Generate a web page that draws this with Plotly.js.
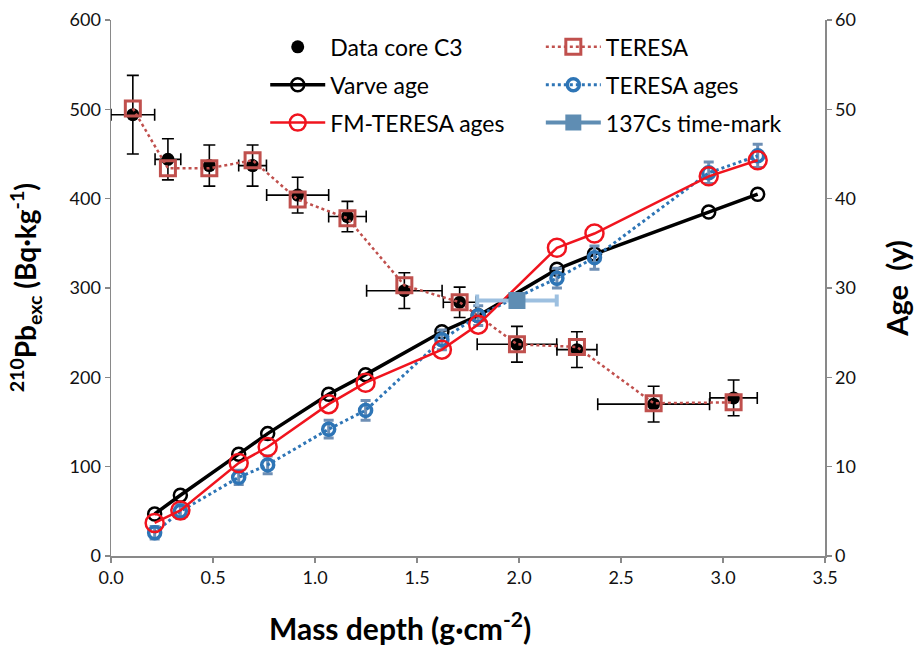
<!DOCTYPE html>
<html>
<head>
<meta charset="utf-8">
<script src="https://cdn.plot.ly/plotly-3.0.1.min.js"></script>
<style>html,body{margin:0;padding:0;background:#fff;}#chart{width:915px;height:653px;}</style>
</head>
<body>
<div id="chart"></div>
<script>
// Core C3 210Pb data (left axis)
const coreDepth = [0.107, 0.279, 0.482, 0.694, 0.915, 1.159, 1.438, 1.709, 1.99, 2.284, 2.66, 3.052];
const coreDepthErr = [0.107, 0.063, 0.0, 0.068, 0.152, 0.092, 0.185, 0.08, 0.195, 0.098, 0.274, 0.116];
const corePb = [494, 444, 437, 437, 404, 380, 297, 284, 237, 231, 170, 177];
const corePbErr = [44, 23, 23, 23, 20, 17, 20, 17, 20, 20, 20, 20];
const teresaPb = [501, 434, 434, 443, 399, 378, 303, 284, 237, 234, 171, 172];

// Ages (right axis)
const ageDepth = [0.214, 0.34, 0.626, 0.768, 1.067, 1.248, 1.622, 1.80, 2.186, 2.37, 2.93, 3.17];
const varveAge = [4.7, 6.8, 11.4, 13.7, 18.1, 20.3, 25.1, 26.9, 32.1, 33.8, 38.5, 40.5];
const fmTeresaAge = [3.7, 5.1, 10.4, 12.2, 17.0, 19.4, 23.1, 25.9, 34.5, 36.1, 42.5, 44.3];
const teresaAge = [2.6, 5.0, 8.8, 10.2, 14.2, 16.3, 24.2, 26.9, 31.1, 33.4, 42.9, 44.8];
const teresaAgeErr = [0.7, 0.8, 0.8, 1.0, 1.0, 1.1, 1.1, 1.1, 1.1, 1.3, 1.2, 1.3];

// 137Cs time-mark
const csDepth = [1.99];
const csDepthErr = [0.195];
const csAge = [28.6];

const FONT = 'Lato, "Open Sans", sans-serif';

const traces = [
  {
    name: 'Data core C3', x: coreDepth, y: corePb, type: 'scatter', mode: 'markers',
    marker: {color: '#000', size: 13, symbol: 'circle'},
    error_x: {type: 'data', array: coreDepthErr, color: '#000', thickness: 1.6, width: 6},
    error_y: {type: 'data', array: corePbErr, color: '#000', thickness: 1.6, width: 6},
    yaxis: 'y', legend: 'legend', legendgroup: 'a'
  },
  {
    name: 'TERESA', x: coreDepth, y: teresaPb, type: 'scatter', mode: 'lines+markers',
    line: {color: '#C0504D', width: 2.5, dash: 'dot'},
    marker: {color: '#C0504D', size: 15, symbol: 'square-open', line: {width: 3, color: '#C0504D'}},
    yaxis: 'y', legend: 'legend2', legendgroup: 'b'
  },
  {
    name: 'Varve age', x: ageDepth, y: varveAge, type: 'scatter', mode: 'lines+markers',
    line: {color: '#000', width: 3.5},
    marker: {color: '#000', size: 13, symbol: 'circle-open', line: {width: 2.5, color: '#000'}},
    yaxis: 'y2', legend: 'legend', legendgroup: 'c'
  },
  {
    name: 'TERESA ages', x: ageDepth, y: teresaAge, type: 'scatter', mode: 'lines+markers',
    line: {color: '#2E75B6', width: 3, dash: 'dot'},
    marker: {color: '#2E75B6', size: 12, symbol: 'circle-open', line: {width: 3.5, color: '#2E75B6'}},
    error_y: {type: 'data', array: teresaAgeErr, color: '#6E8FB5', thickness: 3, width: 5},
    yaxis: 'y2', legend: 'legend2', legendgroup: 'd'
  },
  {
    name: 'FM-TERESA ages', x: ageDepth, y: fmTeresaAge, type: 'scatter', mode: 'lines+markers',
    line: {color: '#F0141E', width: 2.5},
    marker: {color: '#F0141E', size: 18, symbol: 'circle-open', line: {width: 2.5, color: '#F0141E'}},
    yaxis: 'y2', legend: 'legend', legendgroup: 'e'
  },
  {
    name: '137Cs time-mark', x: csDepth, y: csAge, type: 'scatter', mode: 'lines+markers',
    line: {color: '#5F8DB3', width: 4},
    marker: {color: '#5F8DB3', size: 17, symbol: 'square'},
    error_x: {type: 'data', array: csDepthErr, color: '#9DC0E0', thickness: 4, width: 6},
    yaxis: 'y2', legend: 'legend2', legendgroup: 'f'
  }
];

const axisCommon = {
  showline: true, linecolor: '#898989', linewidth: 1.5,
  ticks: 'outside', ticklen: 5, tickcolor: '#898989', tickwidth: 1.3,
  showgrid: false, zeroline: false,
  tickfont: {family: FONT, size: 18, color: '#111'}
};

const legendCommon = {
  orientation: 'v', xanchor: 'left', yanchor: 'top', y: 0.99,
  itemwidth: 55, tracegroupgap: 5,
  font: {family: FONT, size: 23, color: '#000'},
  bgcolor: 'rgba(0,0,0,0)'
};

const layout = {
  width: 915, height: 653,
  margin: {l: 111, r: 90, t: 20, b: 97},
  paper_bgcolor: '#fff', plot_bgcolor: '#fff',
  font: {family: FONT, color: '#000'},
  showlegend: true,
  legend: Object.assign({}, legendCommon, {x: 0.216}),
  legend2: Object.assign({}, legendCommon, {x: 0.602}),
  xaxis: Object.assign({}, axisCommon, {
    range: [0, 3.5], dtick: 0.5, tick0: 0, tickformat: '.1f'
  }),
  yaxis: Object.assign({}, axisCommon, {
    range: [0, 600], dtick: 100, tick0: 0
  }),
  yaxis2: Object.assign({}, axisCommon, {
    range: [0, 60], dtick: 10, tick0: 0, overlaying: 'y', side: 'right',
    title: {text: '<b>Age\u00a0\u00a0(y)</b>', font: {family: FONT, size: 29, color: '#000'}, standoff: 32}
  }),
  annotations: [
    {
      text: '<b>Mass depth (g·cm<sup>-2</sup>)</b>', xref: 'paper', yref: 'paper',
      x: 0.405, y: -0.13, xanchor: 'center', yanchor: 'middle', showarrow: false,
      font: {family: FONT, size: 30, color: '#000'}
    },
    {
      text: '<b><sup>210</sup>Pb<sub>exc</sub> (Bq·kg<sup>-1</sup>)</b>', xref: 'paper', yref: 'paper',
      x: -0.12, y: 0.5, xanchor: 'center', yanchor: 'middle', textangle: -90, showarrow: false,
      font: {family: FONT, size: 28, color: '#000'}
    }
  ]
};

Plotly.newPlot('chart', traces, layout, {displayModeBar: false, staticPlot: true});
</script>
</body>
</html>
